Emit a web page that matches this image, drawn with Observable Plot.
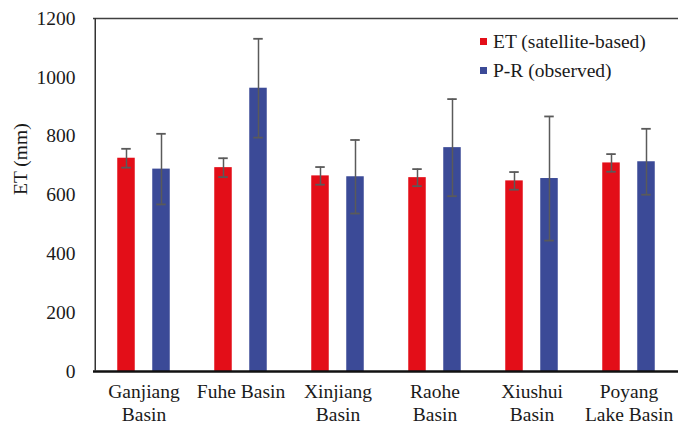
<!DOCTYPE html>
<html>
<head>
<meta charset="utf-8">
<script src="https://cdn.jsdelivr.net/npm/d3@7"></script>
<script src="https://cdn.jsdelivr.net/npm/@observablehq/plot@0.6"></script>
<style>
  body { margin: 0; background: #fff; }
  #wrap { position: relative; width: 678px; height: 428px; }
  #legend { position: absolute; left: 480px; top: 27px; font-family: "Liberation Serif", "Times New Roman", serif; font-size: 19.5px; color: #1a1a1a; }
  #legend div { display: flex; align-items: center; height: 29px; }
  #legend span.sw { display: inline-block; width: 7px; height: 7px; margin-right: 6px; }
</style>
</head>
<body>
<div id="wrap"><div id="legend"></div></div>
<script>
const categories = ["Ganjiang\nBasin", "Fuhe Basin", "Xinjiang\nBasin", "Raohe\nBasin", "Xiushui\nBasin", "Poyang\nLake Basin"];
const etValues = [725, 693, 665, 659, 648, 709];
const etErr = [32, 32, 30, 29, 30, 30];
const prValues = [688, 963, 662, 761, 656, 713];
const prErr = [120, 168, 125, 165, 211, 112];
const yTicks = [0, 200, 400, 600, 800, 1000, 1200];
const seriesNames = ["ET (satellite-based)", "P-R (observed)"];
const seriesColors = ["#E30E18", "#3B4A97"];

const et = categories.map((c, i) => ({cat: c, v: etValues[i], lo: etValues[i] - etErr[i], hi: etValues[i] + etErr[i]}));
const pr = categories.map((c, i) => ({cat: c, v: prValues[i], lo: prValues[i] - prErr[i], hi: prValues[i] + prErr[i]}));

const bandW = (678 - 93) / categories.length;
const barW = 18, capW = 10, off = 17.5;
const barInset = (bandW - barW) / 2;
const capInset = (bandW - capW) / 2;
const errColor = "#5a5a5a";

function series(data, color, dx) {
  return [
    Plot.barY(data, {x: "cat", y: "v", fill: color, dx, insetLeft: barInset, insetRight: barInset}),
    Plot.ruleX(data, {x: "cat", y1: "lo", y2: "hi", stroke: errColor, strokeWidth: 1.5, dx}),
    Plot.tickY(data, {x: "cat", y: "lo", stroke: errColor, strokeWidth: 1.8, dx, insetLeft: capInset, insetRight: capInset}),
    Plot.tickY(data, {x: "cat", y: "hi", stroke: errColor, strokeWidth: 1.8, dx, insetLeft: capInset, insetRight: capInset})
  ];
}

const chart = Plot.plot({
  width: 678,
  height: 428,
  marginLeft: 93,
  marginRight: 0,
  marginTop: 18,
  marginBottom: 57,
  style: {fontFamily: "'Liberation Serif', 'Times New Roman', serif", fontSize: "19.5px", color: "#1a1a1a", background: "#fff"},
  x: {domain: categories, padding: 0, label: null},
  y: {domain: [0, 1200], label: null},
  marks: [
    ...series(et, seriesColors[0], -off),
    ...series(pr, seriesColors[1], off),
    Plot.axisY({ticks: yTicks, tickFormat: d => String(d), tickSize: 0, tickPadding: 18, label: null, fill: "#1a1a1a"}),
    Plot.axisX({tickSize: 0, tickPadding: 10, lineHeight: 1.18, label: null, fill: "#1a1a1a"}),
    Plot.text(["ET (mm)"], {frameAnchor: "left", rotate: -90, dx: -73, fontSize: 19.5, fill: "#1a1a1a"}),
    Plot.ruleY([1200], {stroke: "#404040", strokeWidth: 1.5}),
    Plot.ruleY([0], {stroke: "#111", strokeWidth: 2.5}),
    Plot.ruleX([categories[0]], {stroke: "#333", strokeWidth: 1.5, dx: -bandW / 2})
  ]
});
document.getElementById("wrap").prepend(chart);

const legend = document.getElementById("legend");
seriesNames.forEach((n, i) => {
  const row = document.createElement("div");
  const sw = document.createElement("span");
  sw.className = "sw";
  sw.style.background = seriesColors[i];
  row.appendChild(sw);
  row.appendChild(document.createTextNode(n));
  legend.appendChild(row);
});
</script>
</body>
</html>
